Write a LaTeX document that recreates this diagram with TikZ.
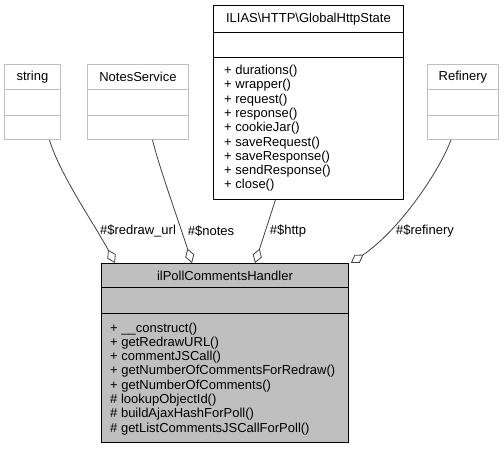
\documentclass[tikz,border=0pt]{standalone}
\usepackage{fontspec}
\setmainfont{Liberation Sans}
\usetikzlibrary{arrows.meta}

\definecolor{boxgray}{RGB}{191,191,191}
\definecolor{edgegray}{RGB}{64,64,64}

\tikzset{
    part/.style={draw, rectangle, anchor=north west, inner sep=0pt, line width=0.9pt},
    faint/.style={part, draw=boxgray},
    member/.style={anchor=base west, inner sep=0pt},
    lbl/.style={inner sep=0pt},
    aggr/.style={draw=edgegray, line width=0.8pt, {Diamond[open, length=15pt, width=9.5pt]}-},
}

\begin{document}
\begin{tikzpicture}[x=1pt, y=-1pt, font=\fontsize{13}{14.3}\selectfont]
    \useasboundingbox (0,0) rectangle (504,448);

    % CLASSES ON TOP
    \node[faint, minimum width=56pt, minimum height=25pt] (string) at (4,64) {string};
    \node[faint, minimum width=56pt, minimum height=26pt] (string-a) at (4,89) {};
    \node[faint, minimum width=56pt, minimum height=24pt] (string-m) at (4,115) {};

    \node[faint, minimum width=101pt, minimum height=25pt] (notes) at (87,64) {NotesService};
    \node[faint, minimum width=101pt, minimum height=26pt] (notes-a) at (87,89) {};
    \node[faint, minimum width=101pt, minimum height=24pt] (notes-m) at (87,115) {};

    \node[part, minimum width=190pt, minimum height=27pt] (http) at (213,5) {ILIAS\textbackslash HTTP\textbackslash GlobalHttpState};
    \node[part, minimum width=190pt, minimum height=25pt] (http-a) at (213,32) {};
    \node[part, minimum width=190pt, minimum height=142pt] (http-m) at (213,57) {};
    \foreach \m [count=\i] in {+ durations(), + wrapper(), + request(), + response(), + cookieJar(),
        + saveRequest(), + saveResponse(), + sendResponse(), + close()}
        \node[member] (http-l\i) at (224,{60.2+14.3*\i}) {\m};

    \node[faint, minimum width=71pt, minimum height=25pt] (refinery) at (427,64) {Refinery};
    \node[faint, minimum width=71pt, minimum height=26pt] (refinery-a) at (427,89) {};
    \node[faint, minimum width=71pt, minimum height=24pt] (refinery-m) at (427,115) {};

    % CLASS AT THE BOTTOM
    \node[part, fill=boxgray, minimum width=247pt, minimum height=24pt] (handler) at (101,263) {ilPollCommentsHandler};
    \node[part, fill=boxgray, minimum width=247pt, minimum height=26pt] (handler-a) at (101,287) {};
    \node[part, fill=boxgray, minimum width=247pt, minimum height=129pt] (handler-m) at (101,313) {};
    \foreach \m [count=\i] in {+ \_\_construct(), + getRedrawURL(), + commentJSCall(),
        + getNumberOfCommentsForRedraw(), + getNumberOfComments(), \# lookupObjectId(),
        \# buildAjaxHashForPoll(), \# getListCommentsJSCallForPoll()}
        \node[member] (handler-l\i) at (110,{317.7+14.3*\i}) {\m};

    % AGGREGATIONS
    \draw[aggr] ([xshift=14pt]handler.north west) .. controls (95,225) and (60,175) .. ([xshift=17pt]string-m.south);
    \draw[aggr] ([xshift=91pt]handler.north west) .. controls (180,225) and (160,170) .. ([xshift=14.5pt]notes-m.south);
    \draw[aggr] ([xshift=154pt]handler.north west) -- ([xshift=-33pt]http-m.south);
    \draw[aggr] ([xshift=2pt]handler.north east) .. controls (400,230) and (440,170) .. ([xshift=-12pt]refinery-m.south);

    \node[lbl] (l-redraw) at (138,231) {\#\$redraw\_url};
    \node[lbl] (l-notes) at (211,231) {\#\$notes};
    \node[lbl] (l-http) at (288,231) {\#\$http};
    \node[lbl] (l-refinery) at (425,231) {\#\$refinery};
\end{tikzpicture}
\end{document}
